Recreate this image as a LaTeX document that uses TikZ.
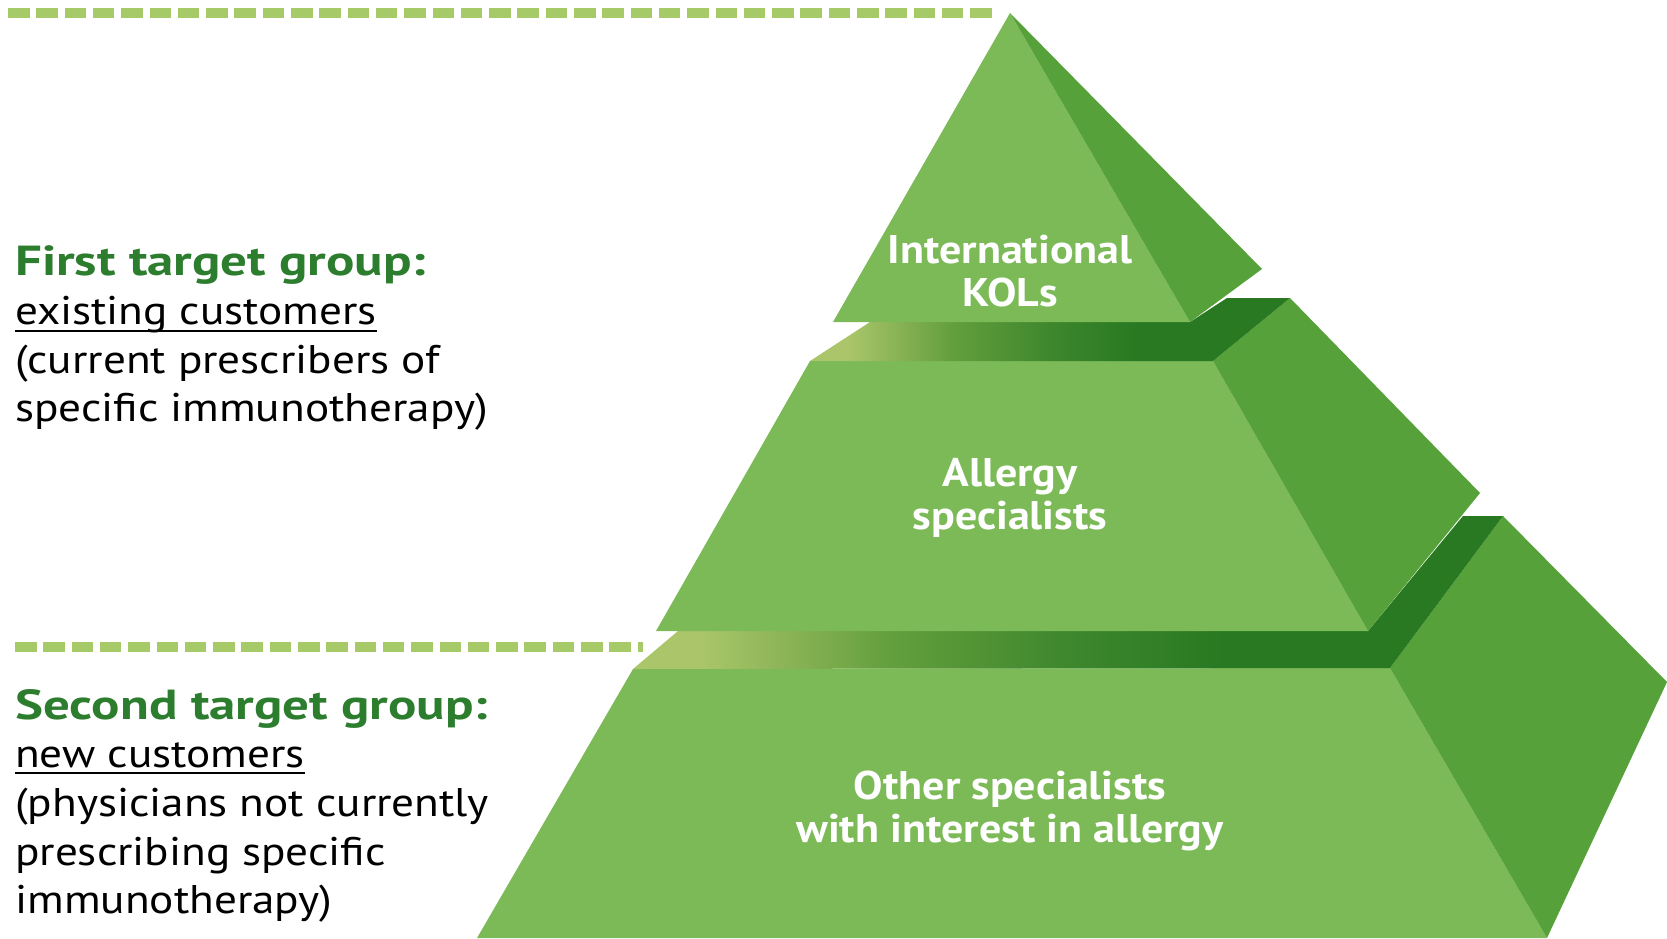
\documentclass[tikz,border=0pt]{standalone}
\usepackage{fontspec}
\setmainfont{PT Sans}[FakeStretch=1.13]
\newfontfamily\headfont{PT Sans}[FakeStretch=1.26]
\newfontfamily\tierfont{PT Sans}[FakeStretch=1.1]

\definecolor{frontgreen}{RGB}{124,185,87}
\definecolor{sidegreen}{RGB}{86,161,57}
\definecolor{bandlight}{RGB}{170,197,106}
\definecolor{bandmid}{RGB}{98,158,60}
\definecolor{banddeep}{RGB}{62,135,45}
\definecolor{banddark}{RGB}{40,121,34}
\definecolor{dashgreen}{RGB}{166,202,104}
\definecolor{titlegreen}{RGB}{44,125,46}

\pgfdeclarehorizontalshading{bandfade}{100bp}{color(0bp)=(bandlight); color(29bp)=(bandlight);
	color(40bp)=(bandmid); color(50bp)=(banddeep); color(59bp)=(banddark); color(100bp)=(banddark)}

\begin{document}
\begin{tikzpicture}[%
	x=1pt, y=-1pt,%
	front/.style ={fill=frontgreen},%
	side/.style ={fill=sidegreen},%
	band/.style ={shading=bandfade},%
	guide/.style ={dashgreen, line width=10pt, dash pattern=on 21.5pt off 6.8pt},%
	title/.style ={titlegreen, font=\headfont\fontsize{42}{49}\selectfont\bfseries, anchor=base west, inner sep=0pt},%
	body/.style ={black, font=\fontsize{40}{49}\selectfont, anchor=base west, inner sep=0pt},%
	uline/.style ={black, line width=2pt},%
	tier/.style ={white, font=\tierfont\fontsize{40}{43}\selectfont\bfseries, align=center, anchor=base},%
	]
	\useasboundingbox (0,0) rectangle (1667,938);
%%% guides
	\draw [guide] (8,13) -- (997,13);
	\draw [guide] (15,647) -- (643,647);
%%% guides
%%% bottom tier
	\fill [front] (633,669) -- (1390,668) -- (1547,938) -- (477,938) -- cycle;
	\fill [side] (1390,668) -- (1503,516) -- (1667,682) -- (1547,938) -- cycle;
	\shade [band] (633,669) -- (678,631) -- (1368,631) -- (1463,516) -- (1503,516) -- (1390,668) -- cycle;
%%% middle tier
	\fill [front] (810,361) -- (1213,361) -- (1368,631) -- (656,631) -- cycle;
	\fill [side] (1213,361) -- (1290,298) -- (1480,493) -- (1368,631) -- cycle;
	\shade [band] (810,361) -- (870,322) -- (1190,322) -- (1227,298) -- (1290,298) -- (1213,361) -- cycle;
%%% top tier
	\fill [front] (833,322) -- (1010,13) -- (1190,322) -- cycle;
	\fill [side] (1010,13) -- (1262,269) -- (1190,322) -- cycle;
%%%% tier labels (base = last line)
	\node [tier] (kols) at (1010,306) {International\\KOLs};
	\node [tier] (allergy) at (1010,529) {Allergy\\specialists};
	\node [tier] (other) at (1010,842) {Other specialists\\with interest in allergy};
%%%% first group
	\node [title] (first) at (15,275) {First target group:};
	\node [body] (existing) at (15,324) {existing customers};
	\draw [uline] ([yshift=-7pt]existing.base west) -- ([yshift=-7pt]existing.base east);
	\node [body] (current) at (15,373) {(current prescribers of};
	\node [body] (specific) at (15,421) {specific immunotherapy)};
%%%% second group
	\node [title] (second) at (15,719) {Second target group:};
	\node [body] (new) at (15,767) {new customers};
	\draw [uline] ([yshift=-6pt]new.base west) -- ([yshift=-6pt]new.base east);
	\node [body] (physicians) at (15,816) {(physicians not currently};
	\node [body] (prescribing) at (15,865) {prescribing specific};
	\node [body] (immuno) at (15,913) {immunotherapy)};
\end{tikzpicture}
\end{document}
